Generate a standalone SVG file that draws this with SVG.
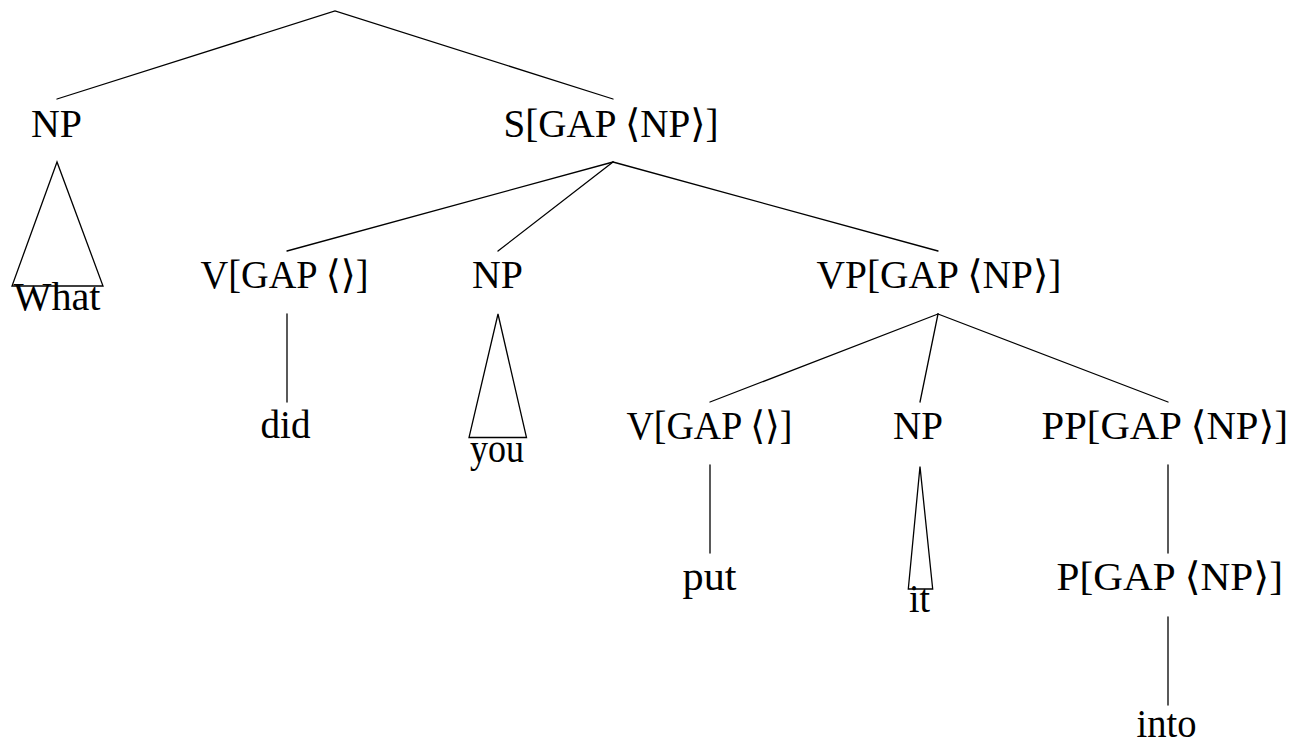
<svg xmlns="http://www.w3.org/2000/svg" width="1308" height="744" viewBox="0 0 1308 744">
<style>
text{font-family:"Liberation Serif","DejaVu Serif",serif;font-size:39px;fill:#000}
.e{stroke:#000;stroke-width:1.3;fill:none;stroke-linecap:round;stroke-linejoin:miter}
</style>
<rect width="1308" height="744" fill="#fff"/>
<g id="connectors" class="e">
<polyline points="57,99 335,11 613,99"/>
<polygon points="57,162 12,286 103,286"/>
<line x1="613" y1="162" x2="287" y2="251"/>
<line x1="613" y1="162" x2="498" y2="251"/>
<line x1="613" y1="162" x2="938" y2="251"/>
<line x1="287" y1="314" x2="287" y2="402"/>
<polygon points="498,314 469,437.5 526.5,437.5"/>
<line x1="938" y1="314" x2="710" y2="402"/>
<line x1="938" y1="314" x2="920" y2="402"/>
<line x1="938" y1="314" x2="1168" y2="402"/>
<line x1="710" y1="465" x2="710" y2="553"/>
<polygon points="920,466.5 908.3,589 932.7,589"/>
<line x1="1168" y1="465" x2="1168" y2="553"/>
<line x1="1168" y1="617" x2="1168" y2="705"/>
</g>
<g id="np1"><text x="31" y="137" textLength="51" lengthAdjust="spacingAndGlyphs">NP</text></g>
<g id="what"><text x="13.5" y="310" textLength="87" lengthAdjust="spacingAndGlyphs">What</text></g>
<g id="s"><text x="503.5" y="137" textLength="215" lengthAdjust="spacingAndGlyphs">S[GAP ⟨NP⟩]</text></g>
<g id="v1"><text x="200.5" y="288" textLength="168" lengthAdjust="spacingAndGlyphs">V[GAP ⟨⟩]</text></g>
<g id="did"><text x="260.5" y="438" textLength="50" lengthAdjust="spacingAndGlyphs">did</text></g>
<g id="np2"><text x="472" y="288" textLength="51" lengthAdjust="spacingAndGlyphs">NP</text></g>
<g id="you"><text x="470" y="462" textLength="54" lengthAdjust="spacingAndGlyphs">you</text></g>
<g id="vp"><text x="816.5" y="288" textLength="245" lengthAdjust="spacingAndGlyphs">VP[GAP ⟨NP⟩]</text></g>
<g id="v2"><text x="626.5" y="439" textLength="166" lengthAdjust="spacingAndGlyphs">V[GAP ⟨⟩]</text></g>
<g id="put"><text x="682.5" y="590" textLength="54" lengthAdjust="spacingAndGlyphs">put</text></g>
<g id="np3"><text x="893" y="439" textLength="50" lengthAdjust="spacingAndGlyphs">NP</text></g>
<g id="it"><text x="909" y="612" textLength="21" lengthAdjust="spacingAndGlyphs">it</text></g>
<g id="pp"><text x="1041.5" y="439" textLength="246.5" lengthAdjust="spacingAndGlyphs">PP[GAP ⟨NP⟩]</text></g>
<g id="p"><text x="1056.5" y="590" textLength="226.5" lengthAdjust="spacingAndGlyphs">P[GAP ⟨NP⟩]</text></g>
<g id="into"><text x="1136.5" y="737" textLength="60" lengthAdjust="spacingAndGlyphs">into</text></g>
</svg>
